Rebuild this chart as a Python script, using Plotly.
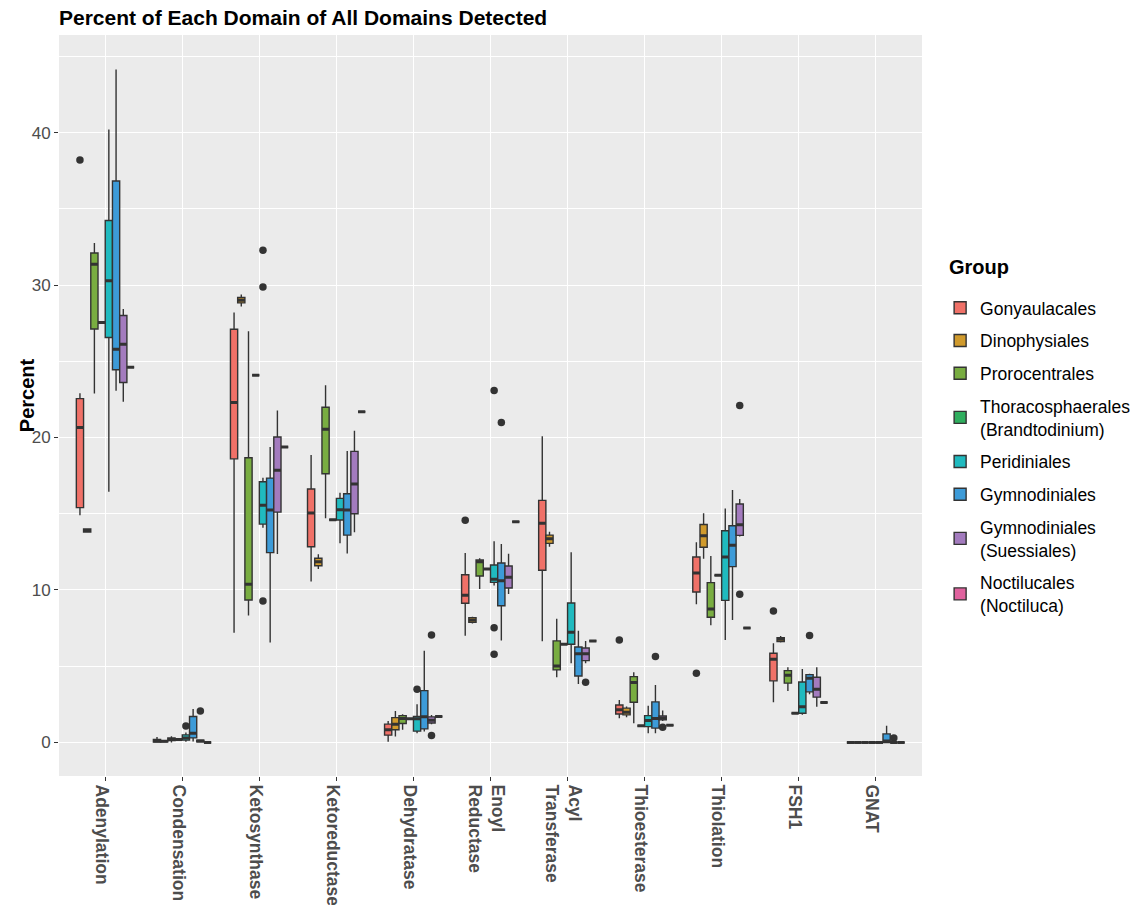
import plotly.graph_objects as go

# Domain categories along the x axis
CATEGORIES = ["Adenylation", "Condensation", "Ketosynthase", "Ketoreductase",
              "Dehydratase", "Enoyl<br>Reductase", "Acyl<br>Transferase",
              "Thioesterase", "Thiolation", "FSH1", "GNAT"]

# Taxonomic groups (one box per group and domain)
GROUPS = ["Gonyaulacales", "Dinophysiales", "Prorocentrales",
          "Thoracosphaerales<br>(Brandtodinium)", "Peridiniales",
          "Gymnodiniales", "Gymnodiniales<br>(Suessiales)",
          "Noctilucales<br>(Noctiluca)"]

COLORS = ["#F07168", "#D09A2C", "#79AD41", "#2FAE5E",
          "#20BABF", "#3D9BD8", "#A37BBE", "#E0629E"]

# Box statistics (percent), one value per domain in CATEGORIES order
LOWER = {
    "Gonyaulacales": [14.9, 0.0, 7.2, 10.55, 0.05, 7.0, 6.64, 1.59, 9.06, 2.64, 0],
    "Dinophysiales": [13.75, 0.03, 28.6, 11.38, 0.39, 7.8, 12.84, 1.66, 12.05, 6.55, 0],
    "Prorocentrales": [22.89, 0.0, 8.32, 14.7, 0.83, 10.07, 4.28, 1.26, 7.69, 3.38, 0],
    "Peridiniales": [16.44, 0.05, 14.08, 13.06, 0.61, 10.3, 5.2, 0.61, 6.72, 1.81, 0],
    "Gymnodiniales": [23.06, 0.06, 6.55, 12.4, 0.72, 6.68, 3.84, 0.6, 8.03, 3.16, 0],
    "Gymnodiniales<br>(Suessiales)": [22.34, 0.0, 12.36, 13.78, 1.2, 9.74, 5.2, 1.4, 13.5, 2.35, 0],
}
Q1 = {
    "Gonyaulacales": [15.4, 0.03, 18.6, 12.84, 0.48, 9.13, 11.29, 1.87, 9.87, 4.04, 0],
    "Dinophysiales": [13.8, 0.05, 28.83, 11.59, 0.83, 7.88, 13.06, 1.81, 12.8, 6.61, 0],
    "Prorocentrales": [27.12, 0.12, 9.34, 17.62, 1.24, 10.92, 4.76, 2.64, 8.21, 3.89, 0],
    "Peridiniales": [26.56, 0.15, 14.32, 14.59, 0.74, 10.5, 6.44, 1.04, 9.32, 1.92, 0],
    "Gymnodiniales": [24.44, 0.3, 12.45, 13.6, 0.89, 8.97, 4.36, 0.94, 11.53, 3.32, 0],
    "Gymnodiniales<br>(Suessiales)": [23.61, 0.05, 15.11, 15.0, 1.28, 10.13, 5.37, 1.48, 13.58, 2.97, 0],
}
MEDIAN = {
    "Gonyaulacales": [20.66, 0.1, 22.3, 15.05, 0.83, 9.65, 14.37, 2.14, 11.11, 5.46, 0],
    "Dinophysiales": [13.9, 0.08, 29.0, 11.86, 1.2, 8.03, 13.36, 1.98, 13.56, 6.77, 0],
    "Prorocentrales": [31.36, 0.2, 10.37, 20.55, 1.57, 11.86, 5.02, 3.93, 8.75, 4.41, 0],
    "Peridiniales": [30.29, 0.3, 15.55, 15.26, 1.55, 10.7, 7.23, 1.44, 12.16, 2.35, 0],
    "Gymnodiniales": [25.79, 0.6, 15.24, 15.24, 1.68, 10.61, 5.81, 1.57, 12.93, 4.21, 0.1],
    "Gymnodiniales<br>(Suessiales)": [26.12, 0.1, 17.86, 16.95, 1.46, 10.83, 5.81, 1.59, 14.28, 3.49, 0],
}
Q3 = {
    "Gonyaulacales": [22.55, 0.2, 27.1, 16.62, 1.2, 11.0, 15.88, 2.46, 12.16, 5.85, 0],
    "Dinophysiales": [14.0, 0.12, 29.18, 12.08, 1.63, 8.19, 13.6, 2.25, 14.3, 6.87, 0],
    "Prorocentrales": [32.1, 0.3, 18.67, 21.99, 1.76, 11.97, 6.66, 4.32, 10.48, 4.71, 0],
    "Peridiniales": [34.23, 0.5, 17.1, 16.01, 1.7, 11.64, 9.15, 1.76, 13.89, 3.97, 0],
    "Gymnodiniales": [36.82, 1.7, 17.34, 16.31, 3.4, 11.77, 6.26, 2.66, 14.21, 4.45, 0.56],
    "Gymnodiniales<br>(Suessiales)": [28.0, 0.15, 20.03, 19.09, 1.68, 11.57, 6.2, 1.74, 15.64, 4.28, 0],
}
UPPER = {
    "Gonyaulacales": [22.9, 0.35, 28.2, 18.85, 1.4, 12.42, 20.09, 2.79, 13.13, 6.51, 0],
    "Dinophysiales": [14.05, 0.15, 29.38, 12.34, 2.07, 8.25, 13.82, 2.36, 15.03, 6.98, 0],
    "Prorocentrales": [32.76, 0.4, 26.97, 23.43, 1.85, 12.08, 8.12, 4.61, 12.23, 4.93, 0],
    "Peridiniales": [40.2, 0.65, 17.36, 16.38, 2.51, 13.19, 12.47, 2.4, 15.35, 4.82, 0],
    "Gymnodiniales": [44.14, 2.2, 19.37, 19.11, 6.02, 13.01, 7.33, 3.77, 16.55, 4.5, 1.09],
    "Gymnodiniales<br>(Suessiales)": [28.43, 0.2, 21.78, 20.44, 1.8, 12.38, 6.66, 2.09, 15.96, 4.93, 0],
}

# Groups represented by a single genome: one value per domain
SINGLE = {
    "Thoracosphaerales<br>(Brandtodinium)": [27.54, 0.2, 24.09, 14.61, 1.55, 11.38, 6.44, 1.09, 10.96, 1.92, 0],
    "Noctilucales<br>(Noctiluca)": [24.61, 0.0, 19.37, 21.69, 1.7, 14.48, 6.66, 1.13, 7.51, 2.62, 0],
}

# Points beyond the whiskers
OUTLIERS = {
    "Gonyaulacales": [[38.2], [], [], [], [], [14.57], [], [6.72], [4.54], [8.62], []],
    "Peridiniales": [[], [1.08], [32.28, 29.88, 9.28], [], [3.49], [23.09, 7.53, 5.78], [], [], [], [], []],
    "Gymnodiniales": [[], [], [], [], [], [20.99], [], [5.63], [], [7.01], []],
    "Gymnodiniales<br>(Suessiales)": [[], [2.07], [], [], [7.05, 0.45], [], [3.95], [1.0], [22.1, 9.72], [], [0.3]],
}

FONT = "Liberation Sans, Arial, Helvetica, sans-serif"
EDGE = "#333333"

fig = go.Figure()
for group, color in zip(GROUPS, COLORS):
    if group in SINGLE:
        vals = SINGLE[group]
        lo = q1 = med = q3 = hi = vals
    else:
        lo, q1, med, q3, hi = LOWER[group], Q1[group], MEDIAN[group], Q3[group], UPPER[group]
    # sample rows per box; a None placeholder keeps every row non-empty
    pts = [row if row else [None] for row in OUTLIERS.get(group, [[] for _ in CATEGORIES])]

    # box, whiskers and outlying points
    fig.add_trace(go.Box(
        name=group, x=CATEGORIES, y=pts,
        q1=q1, median=med, q3=q3, lowerfence=lo, upperfence=hi,
        boxpoints="outliers", jitter=0, pointpos=0,
        fillcolor=color, line=dict(color=EDGE, width=1.4),
        marker=dict(color=EDGE, size=7.5, line=dict(width=0)),
        whiskerwidth=0, offsetgroup=group, legendgroup=group,
        hoverinfo="skip",
    ))
    # heavier median bar drawn over the box
    fig.add_trace(go.Box(
        name=group, x=CATEGORIES,
        q1=med, median=med, q3=med, lowerfence=med, upperfence=med,
        boxpoints=False, fillcolor="rgba(0,0,0,0)",
        line=dict(color=EDGE, width=3), whiskerwidth=0,
        offsetgroup=group, legendgroup=group, showlegend=False,
        hoverinfo="skip",
    ))

fig.update_layout(
    width=1134, height=905,
    margin=dict(l=59, r=212, t=35, b=129, autoexpand=False),
    paper_bgcolor="white", plot_bgcolor="#EBEBEB",
    boxmode="group", boxgap=0.25, boxgroupgap=0,
    font=dict(family=FONT, color="#4D4D4D"),
    title=dict(text="<b>Percent of Each Domain of All Domains Detected</b>",
               xref="container", x=59 / 1134, xanchor="left",
               yref="container", y=1 - 18 / 905, yanchor="middle",
               font=dict(family=FONT, size=21, color="black")),
    legend=dict(font=dict(size=17.5, color="black"),
                x=1.021, xanchor="left", y=0.656, yanchor="top",
                bgcolor="white", tracegroupgap=7),
    showlegend=True,
    annotations=[
        dict(text="<b>Percent</b>", textangle=-90,
             xref="paper", x=-0.037, xanchor="center",
             yref="paper", y=0.514, yanchor="middle",
             showarrow=False, font=dict(family=FONT, size=20, color="black")),
        dict(text="<b>Group</b>",
             xref="paper", x=1.029, xanchor="left",
             yref="paper", y=0.687, yanchor="middle",
             showarrow=False, font=dict(family=FONT, size=20, color="black")),
    ],
)
fig.update_xaxes(
    automargin=False, range=[-0.6, 10.6],
    showgrid=True, gridcolor="white", gridwidth=1.2,
    ticks="outside", ticklen=4, tickcolor=EDGE, tickwidth=1,
    tickangle=90, tickfont=dict(size=17.5, color="#4D4D4D", family=FONT),
    tickprefix="<b>", ticksuffix="</b>", ticklabelshift=-4,
    showline=False, zeroline=False,
)
fig.update_yaxes(
    automargin=False,
    range=[-2.2, 46.4], tickvals=[0, 10, 20, 30, 40],
    showgrid=True, gridcolor="white", gridwidth=1.2,
    minor=dict(tickvals=[5, 15, 25, 35, 45], showgrid=True,
               gridcolor="white", gridwidth=0.6, ticks=""),
    ticks="outside", ticklen=4, tickcolor=EDGE, tickwidth=1,
    tickfont=dict(size=17, color="#4D4D4D", family=FONT),
    zeroline=False, showline=False,
)

fig.write_html("out.html")
